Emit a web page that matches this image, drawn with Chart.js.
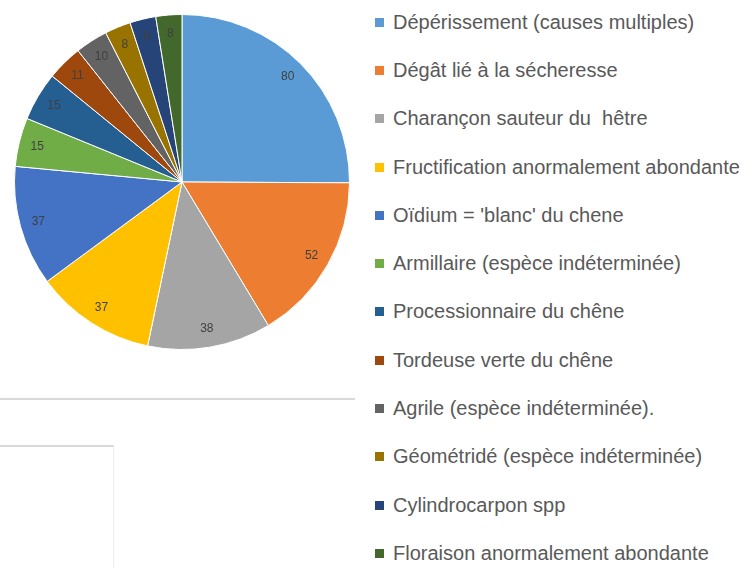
<!DOCTYPE html>
<html lang="fr">
<head>
<meta charset="utf-8">
<title>Problèmes sanitaires observés</title>
<script src="https://cdn.jsdelivr.net/npm/chart.js@4/dist/chart.umd.min.js"></script>
<style>
  html, body { margin: 0; padding: 0; background: #fff; }
  body { width: 756px; height: 568px; position: relative; overflow: hidden; }
  #pieBox { position: absolute; left: 14px; top: 14px; width: 336px; height: 336px; }
  #legend { position: absolute; left: 375px; top: -2px; margin: 0; padding: 0; list-style: none;
            font-family: "Liberation Sans", "DejaVu Sans", sans-serif; font-size: 20px; color: #595959; }
  #legend li { height: 48.3px; display: flex; align-items: center; white-space: pre; }
  #legend .sw { width: 9px; height: 9px; margin-right: 9px; flex: none; }
  .rule { position: absolute; background: #d9d9d9; }
</style>
</head>
<body>
<div id="pieBox"><canvas id="pie"></canvas></div>
<ul id="legend"></ul>
<div class="rule" style="left:0; top:398px; width:355px; height:2px;"></div>
<div class="rule" style="left:0; top:445px; width:114px; height:2px;"></div>
<div class="rule" style="left:113px; top:446px; width:1px; height:122px; background:#ececec;"></div>
<script>
// Causes des problèmes observés (nombre de signalements)
const categories = [
  "Dépérissement (causes multiples)",
  "Dégât lié à la sécheresse",
  "Charançon sauteur du  hêtre",
  "Fructification anormalement abondante",
  "Oïdium = 'blanc' du chene",
  "Armillaire (espèce indéterminée)",
  "Processionnaire du chêne",
  "Tordeuse verte du chêne",
  "Agrile (espèce indéterminée).",
  "Géométridé (espèce indéterminée)",
  "Cylindrocarpon spp",
  "Floraison anormalement abondante"
];
const counts = [80, 52, 38, 37, 37, 15, 15, 11, 10, 8, 8, 8];
const sliceColors = [
  "#5B9BD5", "#ED7D31", "#A5A5A5", "#FFC000", "#4472C4", "#70AD47",
  "#255E91", "#9E480E", "#636363", "#997300", "#264478", "#43682B"
];

// Value labels drawn near the outer edge of each slice
const sliceValues = {
  id: "sliceValues",
  afterDatasetsDraw(chart) {
    const ctx = chart.ctx;
    const meta = chart.getDatasetMeta(0);
    ctx.save();
    ctx.font = "12px 'Liberation Sans', sans-serif";
    ctx.fillStyle = "#404040";
    ctx.textAlign = "center";
    ctx.textBaseline = "middle";
    meta.data.forEach((arc, i) => {
      const p = arc.getProps(["x", "y", "startAngle", "endAngle", "outerRadius"], true);
      const mid = (p.startAngle + p.endAngle) / 2;
      const r = p.outerRadius * 0.89;
      ctx.fillText(String(counts[i]), p.x + Math.cos(mid) * r, p.y + Math.sin(mid) * r);
    });
    ctx.restore();
  }
};

new Chart(document.getElementById("pie"), {
  type: "pie",
  data: {
    labels: categories,
    datasets: [{
      data: counts,
      backgroundColor: sliceColors,
      borderColor: "#ffffff",
      borderWidth: 1
    }]
  },
  options: {
    responsive: true,
    maintainAspectRatio: false,
    animation: false,
    layout: { padding: 0 },
    plugins: { legend: { display: false }, tooltip: { enabled: false } }
  },
  plugins: [sliceValues]
});

// Legend list built from the same categories and colours
const legend = document.getElementById("legend");
categories.forEach((name, i) => {
  const li = document.createElement("li");
  const sw = document.createElement("span");
  sw.className = "sw";
  sw.style.background = sliceColors[i];
  li.appendChild(sw);
  li.appendChild(document.createTextNode(name));
  legend.appendChild(li);
});
</script>
</body>
</html>
